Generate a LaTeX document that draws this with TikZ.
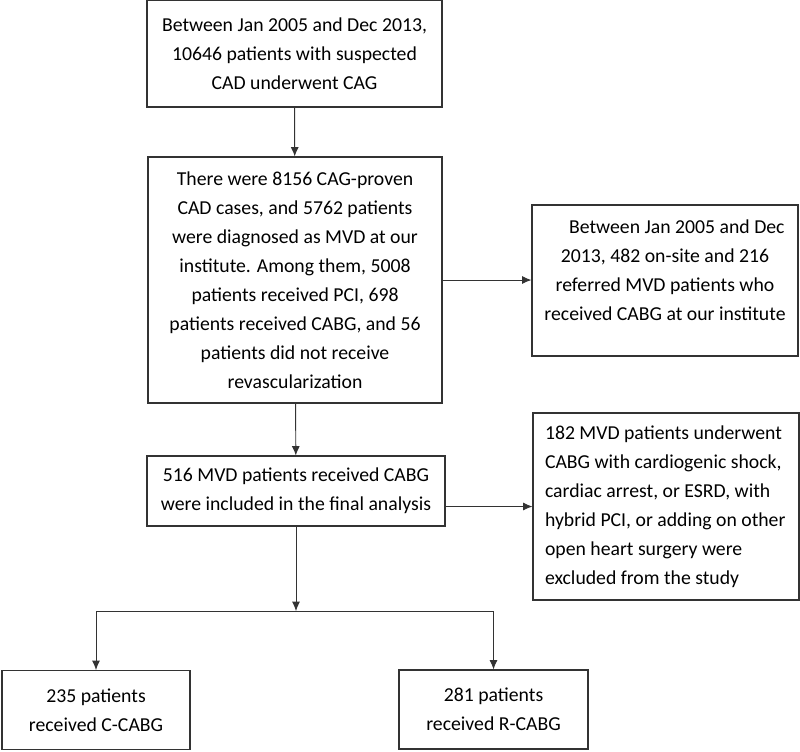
\documentclass[tikz,border=0pt]{standalone}
\usepackage{fontspec}
\setmainfont{Carlito}
\usetikzlibrary{arrows.meta}

\begin{document}
\begin{tikzpicture}[x=0.75pt,y=-0.75pt,
    box/.style={draw=black!80, line width=0.8pt, align=center, inner sep=0pt,
        font=\fontsize{14.8pt}{21.75pt}\selectfont},
    link/.style={draw=black!80, line width=0.7pt, -{Latex[length=7pt,width=6pt]}}]

    \useasboundingbox (0,0) rectangle (800,751);

    % screened cohort
    \node[box, minimum width=221.25pt, minimum height=80.25pt] (cohort) at (294.5,53.5)
        {Between Jan 2005 and Dec 2013,\\10646 patients with suspected\\CAD underwent CAG};

    % proven CAD
    \node[box, minimum width=220.5pt, minimum height=184.5pt] (proven) at (295,280)
        {There were 8156 CAG-proven\\CAD cases, and 5762 patients\\were diagnosed as MVD at our\\institute. Among them, 5008\\patients received PCI, 698\\patients received CABG, and 56\\patients did not receive\\revascularization};

    % on-site and referred
    \node[box, minimum width=199.5pt, minimum height=113.25pt] (referred) at (665,280.5)
        {\hspace{1.2em}Between Jan 2005 and Dec\\2013, 482 on-site and 216\\referred MVD patients who\\received CABG at our institute\\[-6pt]};

    % final analysis
    \node[box, minimum width=223.5pt, minimum height=52.5pt] (included) at (296,491)
        {516 MVD patients received CABG\\were included in the final analysis};

    % excluded
    \node[box, align=flush left, inner xsep=9pt, text width=181.5pt, minimum height=140.25pt] (excluded) at (666,506.5)
        {182 MVD patients underwent\\CABG with cardiogenic shock,\\cardiac arrest, or ESRD, with\\hybrid PCI, or adding on other\\open heart surgery were\\excluded from the study};

    % groups
    \node[box, minimum width=141pt, minimum height=59.25pt] (ccabg) at (96,710)
        {235 patients\\received C-CABG};
    \node[box, minimum width=141.75pt, minimum height=59.25pt] (rcabg) at (493.5,709.5)
        {281 patients\\received R-CABG};

    \coordinate (split) at (296,611);

    \draw[link] (cohort) -- (proven);
    \draw[link] (proven.east) -- (proven.east -| referred.west);
    \draw[link] (proven) -- (included);
    \draw[link] (included.east |- excluded.west) -- (excluded.west);
    \draw[link] (included) -- (split);
    \draw[draw=black!80, line width=0.7pt] (ccabg.north |- split) -- (rcabg.north |- split);
    \draw[link] (ccabg.north |- split) -- (ccabg);
    \draw[link] (rcabg.north |- split) -- (rcabg);

\end{tikzpicture}
\end{document}
